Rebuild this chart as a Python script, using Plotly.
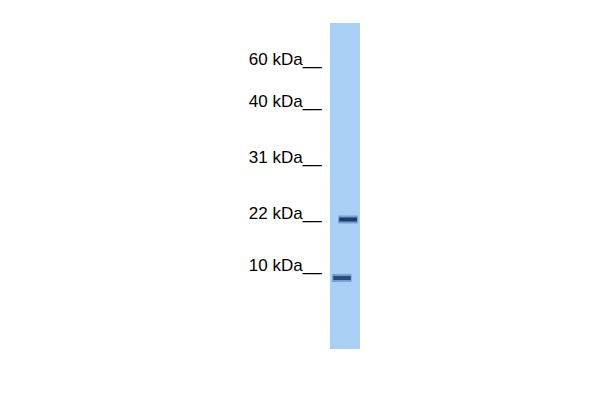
import plotly.graph_objects as go

# Ladder markers (label, migration in px from top of lane)
ladder_labels = ["60 kDa__", "40 kDa__", "31 kDa__", "22 kDa__", "10 kDa__"]
ladder_pos = [36, 78, 134, 190, 242]

# Detected bands: migration distance, left/right extent in lane fraction
band_pos = [196.5, 255]
band_left = [0.27, 0.07]
band_right = [0.93, 0.72]
band_color = ["#1c3a6b", "#284a7c"]

LANE_LEN = 326

fig = go.Figure()
for y, l, r, c in zip(band_pos, band_left, band_right, band_color):
    fig.add_trace(go.Scatter(x=[l, r], y=[y, y], mode="lines",
                             line=dict(color="rgba(60,100,160,0.45)", width=8),
                             hoverinfo="skip", showlegend=False))
    fig.add_trace(go.Scatter(x=[l + 0.04, r - 0.03], y=[y, y], mode="lines",
                             line=dict(color=c, width=4), hoverinfo="skip",
                             showlegend=False))

fig.update_layout(
    width=600, height=400,
    margin=dict(l=0, r=0, t=0, b=0),
    paper_bgcolor="white",
    plot_bgcolor="#a9cff4",
    xaxis=dict(domain=[322/600, 352/600], range=[0, 1], visible=False,
               showgrid=False, zeroline=False, fixedrange=True),
    yaxis=dict(domain=[1 - 341/400, 1 - 15/400], range=[LANE_LEN, 0],
               tickvals=ladder_pos, ticktext=ladder_labels,
               showgrid=False, zeroline=False, showline=False,
               ticks="outside", ticklen=4, tickcolor="rgba(0,0,0,0)",
               tickfont=dict(family="Liberation Sans, Arial", size=17, color="black")),
)
fig.write_html("out.html")
